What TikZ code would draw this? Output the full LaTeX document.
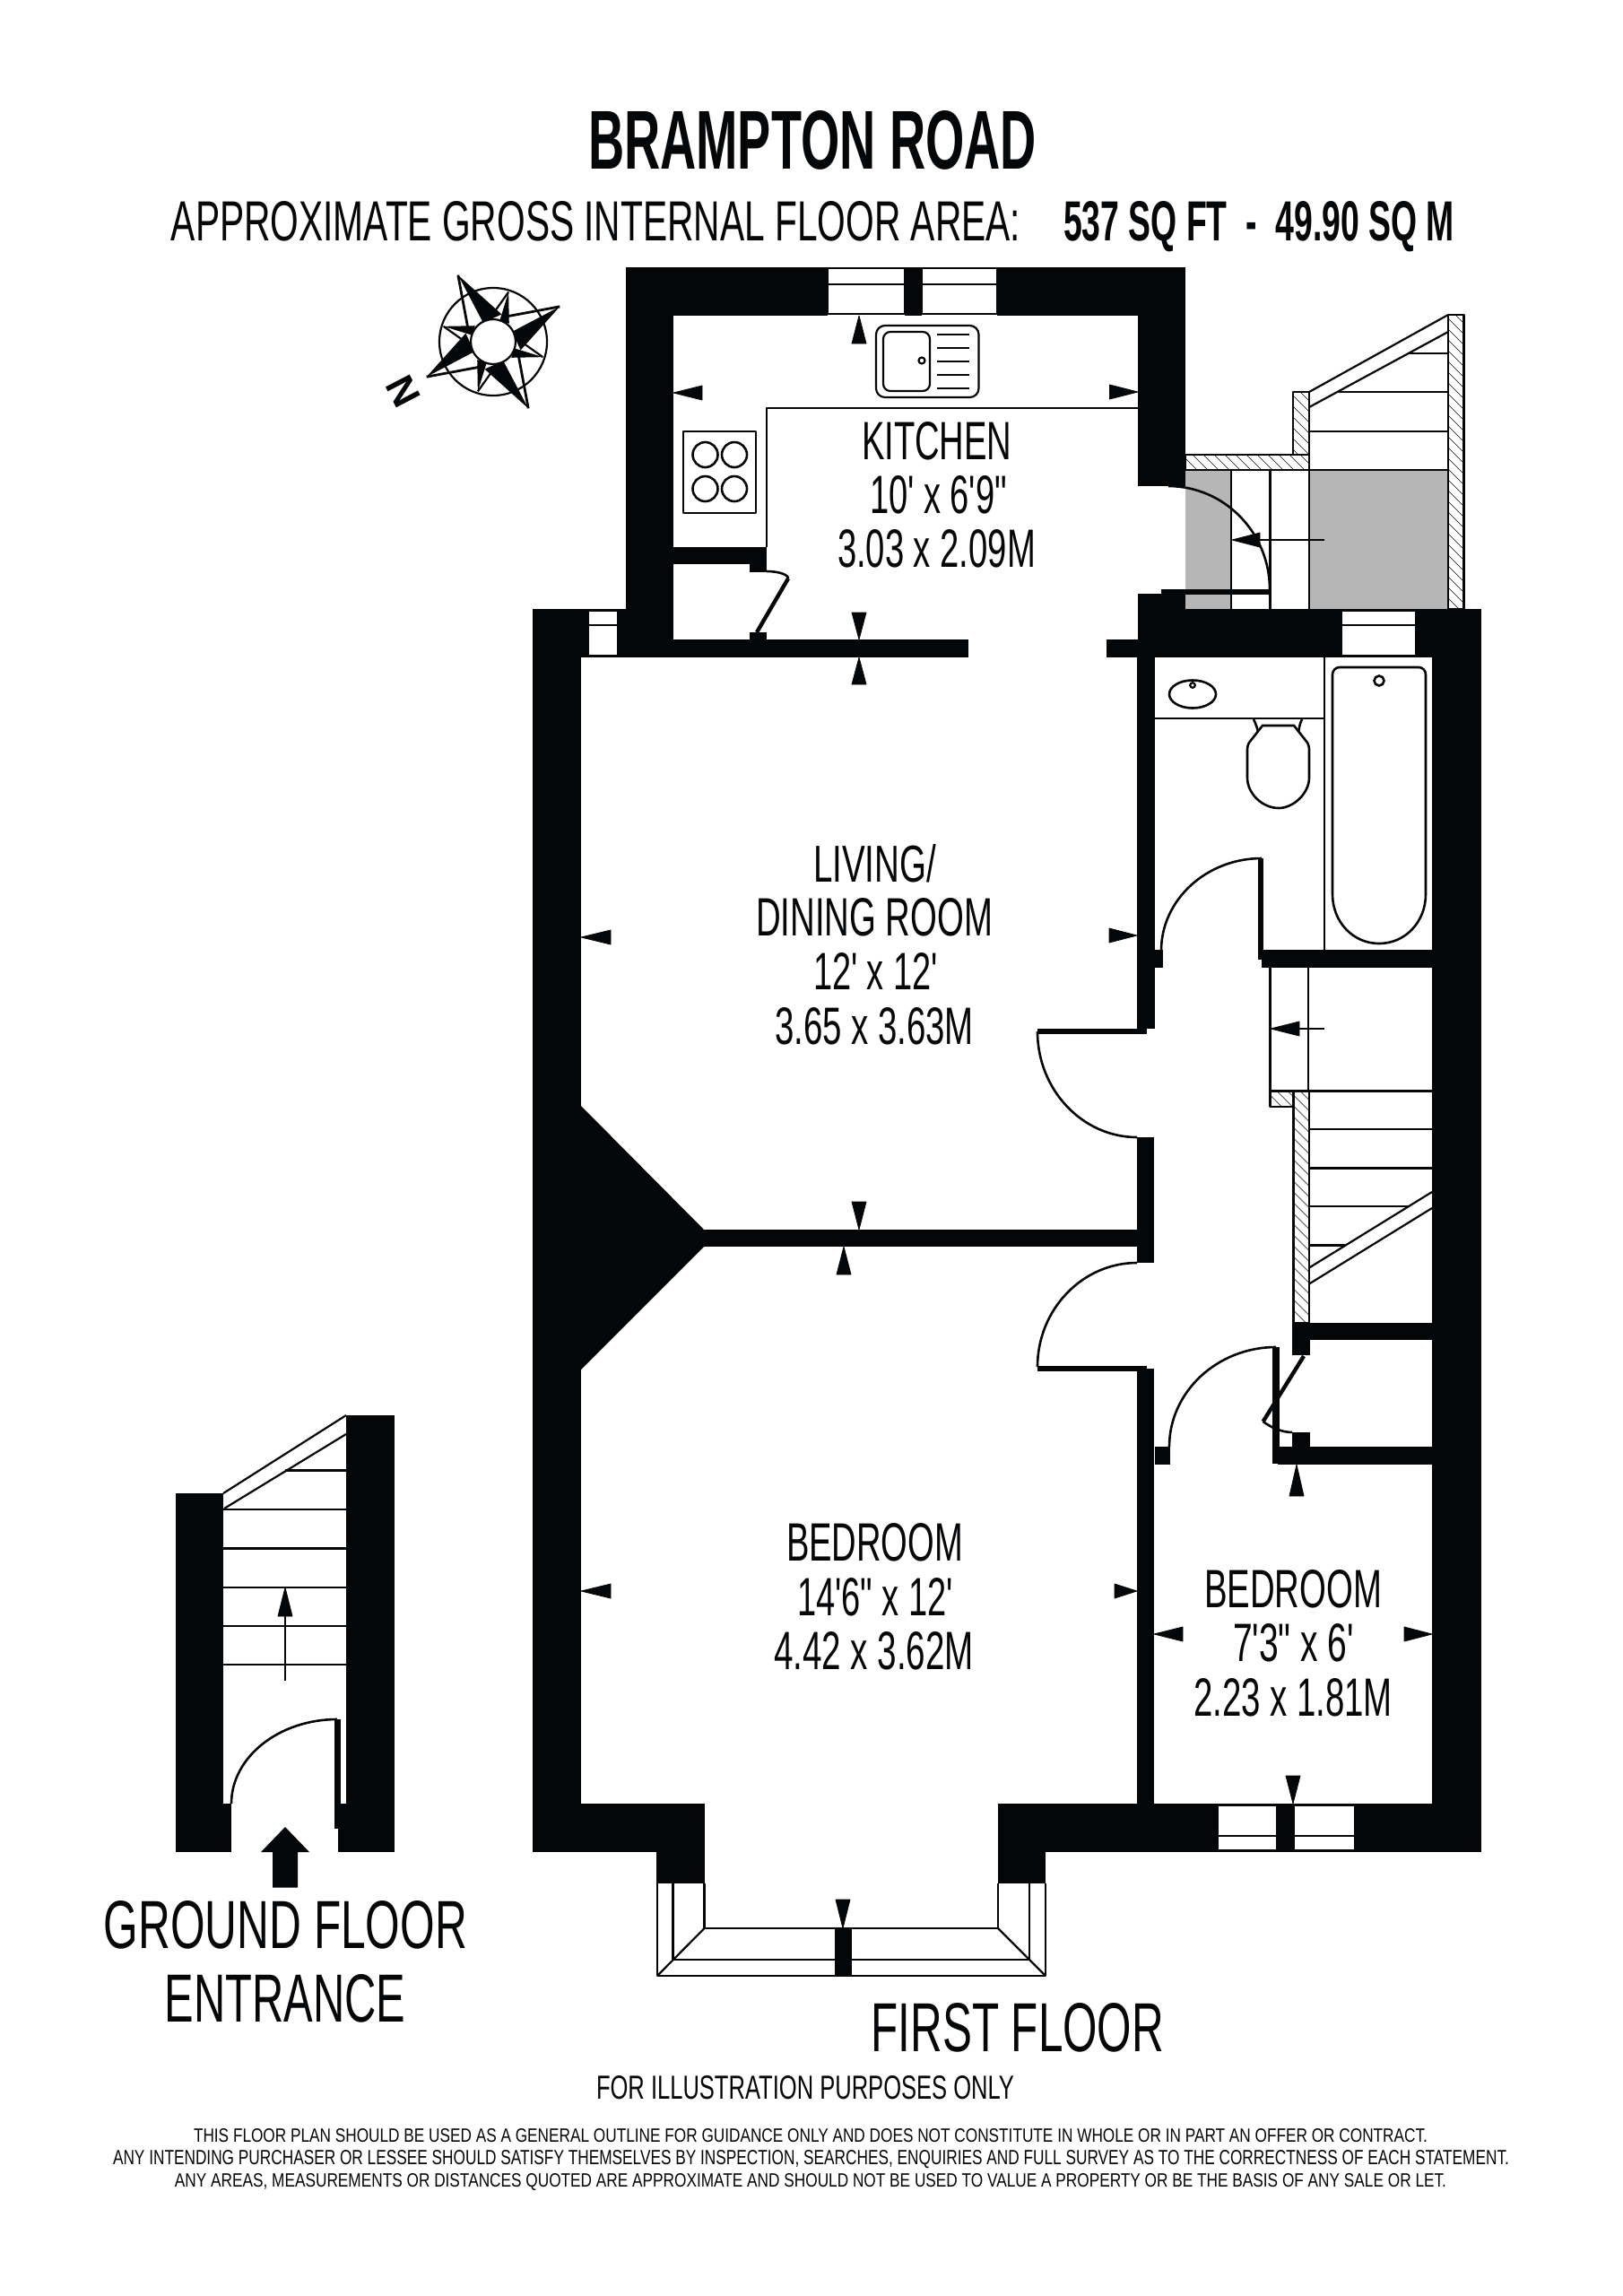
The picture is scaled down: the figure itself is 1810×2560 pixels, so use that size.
\documentclass[tikz,border=0pt]{standalone}
\usepackage{fontspec}
\usepackage{graphicx}
\newfontfamily\plainf{Liberation Sans}
\definecolor{wallk}{HTML}{050608}
\definecolor{greyfl}{HTML}{B6B6B6}
\tikzset{
  thinln/.style={draw=wallk,line width=0.55pt,line join=round},
  midln/.style={draw=wallk,line width=0.7pt,line join=round},
  doorln/.style={draw=wallk,line width=0.65pt},
  wall/.style={fill=wallk},
}
\newcommand\wallbox[4]{\fill[wall] (#1,#2) rectangle (#3,#4);}
\newcommand\winbox[5]{\fill[white] (#1,#2) rectangle (#3,#4);\draw[thinln] (#1,#2) rectangle (#3,#4);\draw[thinln] (#1,#5) -- (#3,#5);}
\newcommand\harr[3]{\fill[wall,draw=wallk,line width=0.2pt,line join=round] (#1,#2) -- (#3,#2-8) -- (#3,#2+8) -- cycle;}
\newcommand\varr[3]{\fill[wall,draw=wallk,line width=0.2pt,line join=round] (#1,#2) -- (#1-8,#3) -- (#1+8,#3) -- cycle;}
\newcommand\arcHV[4]{\draw[doorln] (#1,#2) .. controls ({#1+.55*(#3-#1)},#2) and (#3,{#4-.55*(#4-#2)}) .. (#3,#4);}
\newcommand\arcVH[4]{\draw[doorln] (#1,#2) .. controls (#1,{#2+.55*(#4-#2)}) and ({#3-.55*(#3-#1)},#4) .. (#3,#4);}
\newcommand\hatchbox[4]{%
  \begin{scope}\clip (#1,#2) rectangle (#3,#4);
    \foreach \k in {-340,-328,...,340}{\draw[draw=wallk,line width=0.13pt] ({#1+\k},#2) -- ++(350,350);}
  \end{scope}
  \draw[thinln] (#1,#2) rectangle (#3,#4);}
% name, font, x1, x2, ytop, ybase, text
\newcommand\fitxt[7]{%
  \pgfmathsetmacro\fw{(#4-#3)*0.25}\pgfmathsetmacro\fh{(#6-#5)*0.25}%
  \node[inner sep=0,anchor=base,text=wallk] (#1) at ({(#3+#4)/2},#6) {\resizebox{\fw pt}{\fh pt}{#2#7}};}
\begin{document}
\begin{tikzpicture}[x=0.25pt,y=-0.25pt]
\useasboundingbox (0,0) rectangle (1810,2560);
\fill[white] (0,0) rectangle (1810,2560);

% ---- outside steps at kitchen door
\fill[greyfl] (1322,524) rectangle (1373,679);
\fill[greyfl] (1460,524) rectangle (1615,679);
\hatchbox{1615}{351}{1632.5}{679}
\hatchbox{1442}{437}{1460}{507}
\hatchbox{1322}{507}{1460}{524}
\draw[thinln] (1460,437) -- (1615,351);
\draw[thinln] (1460,454) -- (1615,370);
\draw[thinln] (1570.5,394) -- (1615,394);
\draw[thinln] (1493,437) -- (1615,437);
\draw[thinln] (1460,481) -- (1615,481);
\draw[thinln] (1322,524) -- (1615,524);
\draw[thinln] (1373,524) -- (1373,679);
\draw[thinln] (1416.5,524) -- (1416.5,679);
\draw[thinln] (1460,507) -- (1460,679);
\draw[midln] (1477,602) -- (1400,602);
\harr{1374}{602}{1405}

% ---- first floor walls
\wallbox{698}{298}{923}{352}
\wallbox{1112}{298}{1322}{352}
\wallbox{1009}{298}{1028}{352}
\wallbox{698}{298}{751}{733}
\wallbox{1269}{298}{1322}{542}
\wallbox{751}{610}{855}{629}
\wallbox{836}{629}{855}{638}
\wallbox{836}{705}{855}{713}
\wallbox{751}{713}{1080}{733}
\wallbox{1234}{713}{1269}{733}
\wallbox{594}{679}{751}{733}
\wallbox{1295}{657}{1416}{663}
\wallbox{1269}{662}{1322}{679}
\wallbox{1269}{679}{1652}{733}
\wallbox{594}{679}{648}{2065}
\wallbox{1597}{679}{1652}{2065}
\wallbox{1268}{733}{1288}{1147}
\wallbox{1157}{1147}{1279}{1153}
\wallbox{1268}{1268}{1287}{1408}
\wallbox{780}{1371}{1268}{1390}
\fill[wall] (648,1233) -- (785,1371) -- (785,1390) -- (648,1527) -- cycle;
\wallbox{1157}{1523}{1279}{1529}
\wallbox{1268}{1526}{1287}{2011}
\wallbox{1288}{1059}{1297}{1079}
\wallbox{1403}{957}{1409}{1070}
\wallbox{1407}{1059}{1597}{1079}
\wallbox{1288}{1613}{1305}{1632.5}
\wallbox{1419}{1502}{1426.5}{1632}
\wallbox{1425}{1613}{1597}{1632.5}
\wallbox{1441}{1596.5}{1461}{1613}
\wallbox{1441}{1475}{1461}{1511}
\wallbox{1441}{1475}{1597}{1494}
\wallbox{594}{2011}{785.5}{2065}
\wallbox{732}{2065}{785.5}{2100}
\wallbox{1113}{2011}{1652}{2065}
\wallbox{1113}{2065}{1166}{2100}

% ---- windows
\winbox{923}{299}{1009}{350}{317}
\winbox{1028}{299}{1112}{350}{317}
\winbox{656}{681}{689}{731}{697}
\winbox{1495.5}{681}{1579.5}{731}{697}
\winbox{1357.5}{2013}{1424}{2063}{2047}
\winbox{1443}{2013}{1511}{2063}{2047}

% ---- bay window
\draw[thinln] (733,2100) -- (733,2203) -- (1166,2203) -- (1166,2100);
\draw[thinln] (750.5,2100) -- (750.5,2185);
\draw[thinln] (785.5,2100) -- (785.5,2150) -- (1113,2150) -- (1113,2100);
\draw[thinln] (1148,2100) -- (1148,2185);
\draw[midln] (750.5,2185) -- (1148,2185);
\draw[thinln] (785.5,2150) -- (733,2203);
\draw[thinln] (1113,2150) -- (1166,2203);
\wallbox{931}{2150}{950}{2203}

% ---- kitchen fittings
\draw[thinln] (855,610) -- (855,455) -- (1269,455);
\draw[thinln] (762,481) rectangle (843,572);
\foreach \cx in {786.5,819}{\foreach \cy in {507,545}{\draw[doorln] (\cx,\cy) circle [radius=14];}}
\draw[thinln,rounded corners=2.5pt] (977,363) rectangle (1091.5,443);
\draw[thinln,rounded corners=2pt] (985,370) rectangle (1037,436);
\draw[thinln] (1028,402) circle [radius=3.5];
\foreach \ly in {373,388,403,418,433}{\draw[thinln] (1045,\ly) -- (1081,\ly);}
\arcHV{855}{637}{879}{645}
\draw[draw=wallk,line width=1.1pt] (879,645) -- (844,705);

% ---- bathroom
\draw[thinln] (1477,733) -- (1477,1059);
\draw[thinln] (1288,801) -- (1477,801);
\draw[doorln] (1330,774) ellipse [x radius=26,y radius=15.5];
\draw[thinln] (1330,764) circle [radius=2.8];
\draw[doorln,rounded corners=2pt] (1486,997) -- (1486,744) -- (1590,744) -- (1590,997);
\draw[doorln] (1590,997) .. controls (1590,1028) and (1567,1052) .. (1538,1052) .. controls (1509,1052) and (1486,1028) .. (1486,997);
\draw[doorln] (1538,759) circle [radius=5.5];
\draw[doorln] (1398,802) .. controls (1401,808) and (1402,812) .. (1403,816);
\draw[doorln] (1452,802) .. controls (1449,808) and (1449,812) .. (1448,816);
\draw[doorln] (1408,809) -- (1443,809) -- (1458,828) .. controls (1460,832) and (1460,834) .. (1460,838) -- (1460,867) .. controls (1460,885) and (1442,901) .. (1426,901) .. controls (1408,901) and (1391,885) .. (1391,867) -- (1391,838) .. controls (1391,834) and (1391,832) .. (1393,828) -- cycle;
\arcVH{1295}{1060}{1407}{957}
\arcVH{1157}{1150}{1268}{1268}
\arcHV{1268}{1408}{1157}{1524}
\arcVH{1304}{1613}{1423}{1502}
\draw[doorln] (1441,1597) .. controls (1430,1597) and (1418,1592) .. (1408.6,1585);
\draw[draw=wallk,line width=1.1pt] (1408.6,1585) -- (1454,1512);

% ---- kitchen door
\arcHV{1303}{542}{1416}{657}

% ---- internal stairs
\draw[thinln] (1416.5,1079) -- (1416.5,1234);
\draw[thinln] (1459,1079) -- (1459,1217);
\hatchbox{1442.5}{1217}{1460}{1475}
\hatchbox{1416.5}{1217}{1442.5}{1234}
\draw[thinln] (1416.5,1216.5) -- (1597,1216.5);
\draw[thinln] (1460,1259) -- (1597,1259);
\draw[thinln] (1460,1302.5) -- (1597,1302.5);
\draw[thinln] (1460,1345) -- (1570,1345);
\draw[thinln] (1460,1388.5) -- (1500,1388.5);
\draw[thinln] (1460,1413.5) -- (1597,1329);
\draw[thinln] (1460,1431.5) -- (1597,1347);
\draw[midln] (1477,1147) -- (1440,1147);
\harr{1417}{1147}{1449}

% ---- dimension arrows
\varr{958}{352}{383}
\harr{751}{438}{783}
\harr{1269}{437}{1237.5}
\varr{958}{713}{683}
\varr{958}{733}{763}
\harr{648}{1045}{681}
\harr{1268}{1043}{1237}
\varr{958}{1371}{1340}
\varr{941}{1390}{1421}
\harr{648}{1774}{681}
\harr{1268}{1774}{1243}
\harr{1287}{1822}{1319}
\harr{1597}{1822}{1566}
\varr{1446}{1633}{1668}
\varr{1442}{2011}{1980}
\varr{940}{2150}{2118}

% ---- compass
\draw[thinln,fill=white] (550,381) circle [radius=60];
\foreach \a in {-27.8,62.2,152.2,242.2}{
  \pgfmathsetmacro\s{\a+45}
  \fill[wall] ({550+58*cos(\s)},{381+58*sin(\s)}) -- ({550+24*cos(\s)},{381+24*sin(\s)}) -- ({550+27*cos(\s+24)},{381+27*sin(\s+24)}) -- cycle;
  \draw[thinln] ({550+58*cos(\s)},{381+58*sin(\s)}) -- ({550+27*cos(\s-24)},{381+27*sin(\s-24)});
}
\foreach \a in {-27.8,62.2,152.2,242.2}{
  \fill[wall] ({550+84*cos(\a)},{381+84*sin(\a)}) -- ({550+24*cos(\a)},{381+24*sin(\a)}) -- ({550+32*cos(\a+45)},{381+32*sin(\a+45)}) -- cycle;
  \draw[midln] ({550+84*cos(\a)},{381+84*sin(\a)}) -- ({550+29*cos(\a-42)},{381+29*sin(\a-42)});
}
\draw[thinln,fill=white] (550,381) circle [radius=25];
\node[inner sep=0,text=wallk,rotate=117.5,font=\plainf\bfseries\fontsize{11}{11}\selectfont] (north) at (450,436) {N};

% ---- ground floor entrance
\wallbox{196}{1665}{249}{2065}
\wallbox{386}{1578}{440}{2065}
\draw[thinln] (249,1665) -- (386,1578);
\draw[thinln] (250,1682) -- (386,1599);
\draw[thinln] (318,1639.5) -- (386,1639.5);
\foreach \ly in {1683,1726.5,1770,1813,1856}{\draw[thinln] (249,\ly) -- (386,\ly);}
\draw[midln] (318,1800) -- (318,1874);
\varr{318}{1770}{1802}
\wallbox{249}{2011}{258}{2065}
\wallbox{377}{2011}{386}{2065}
\wallbox{373}{1917}{380}{2039}
\arcVH{258}{2011}{376}{1917}
\fill[wall] (318,2037) -- (345,2065) -- (332,2065) -- (332,2104.5) -- (304,2104.5) -- (304,2065) -- (291,2065) -- cycle;

% ---- text
\fitxt{title}{\plainf\bfseries}{656}{1156}{123}{188}{BRAMPTON ROAD}
\fitxt{area}{\plainf}{191}{1138}{224}{268}{APPROXIMATE GROSS INTERNAL FLOOR AREA:}
\fitxt{areaval}{\plainf\bfseries}{1186}{1622}{224}{268}{537 SQ FT~~-~~49.90 SQ M}
\fitxt{k1}{\plainf}{961}{1128.5}{470}{512}{KITCHEN}
\fitxt{k2}{\plainf}{970}{1123}{530}{572}{10' x 6'9"}
\fitxt{k3}{\plainf}{934}{1155}{590}{632}{3.03 x 2.09M}
\fitxt{l1}{\plainf}{907}{1044}{941}{983}{LIVING/}
\fitxt{l2}{\plainf}{843}{1107}{1001}{1043}{DINING ROOM}
\fitxt{l3}{\plainf}{907}{1046}{1062}{1103}{12' x 12'}
\fitxt{l4}{\plainf}{864}{1086}{1123}{1164}{3.65 x 3.63M}
\fitxt{b1}{\plainf}{877}{1074}{1698}{1740}{BEDROOM}
\fitxt{b2}{\plainf}{889}{1063}{1759}{1801}{14'6" x 12'}
\fitxt{b3}{\plainf}{863}{1086}{1819}{1861}{4.42 x 3.62M}
\fitxt{c1}{\plainf}{1343}{1541}{1750}{1792}{BEDROOM}
\fitxt{c2}{\plainf}{1375}{1510}{1810}{1852}{7'3" x 6'}
\fitxt{c3}{\plainf}{1331}{1553}{1871}{1913}{2.23 x 1.81M}
\fitxt{g1}{\plainf}{116}{521}{2119}{2172}{GROUND FLOOR}
\fitxt{g2}{\plainf}{184}{452.5}{2201}{2254}{ENTRANCE}
\fitxt{f1}{\plainf}{971.5}{1298}{2233}{2287}{FIRST FLOOR}
\fitxt{i1}{\plainf}{665}{1131}{2314}{2340}{FOR ILLUSTRATION PURPOSES ONLY}
\fitxt{d1}{\plainf}{216}{1592}{2373}{2388}{THIS FLOOR PLAN SHOULD BE USED AS A GENERAL OUTLINE FOR GUIDANCE ONLY AND DOES NOT CONSTITUTE IN WHOLE OR IN PART AN OFFER OR CONTRACT.}
\fitxt{d2}{\plainf}{126}{1683}{2397}{2413}{ANY INTENDING PURCHASER OR LESSEE SHOULD SATISFY THEMSELVES BY INSPECTION, SEARCHES, ENQUIRIES AND FULL SURVEY AS TO THE CORRECTNESS OF EACH STATEMENT.}
\fitxt{d3}{\plainf}{195}{1613}{2423}{2438}{ANY AREAS, MEASUREMENTS OR DISTANCES QUOTED ARE APPROXIMATE AND SHOULD NOT BE USED TO VALUE A PROPERTY OR BE THE BASIS OF ANY SALE OR LET.}
\end{tikzpicture}
\end{document}
